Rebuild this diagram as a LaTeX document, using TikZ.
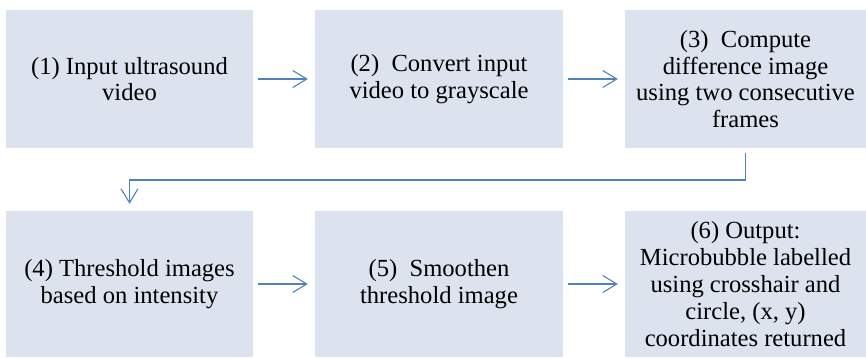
\documentclass[tikz,border=0pt]{standalone}
\usepackage{fontspec}
\setmainfont{Liberation Serif}
\usetikzlibrary{arrows.meta}
\definecolor{boxfill}{HTML}{DCE3EE}
\definecolor{flowblue}{HTML}{4F81BD}
\begin{document}
\begin{tikzpicture}[x=1pt,y=-1pt,
  stepbox/.style={fill=boxfill, draw=none, inner sep=0pt, align=center,
    font=\fontsize{24.6}{26.8}\selectfont},
  toprow/.style={minimum height=138pt},
  botrow/.style={minimum height=146pt},
  flow/.style={draw=flowblue, line width=1.1pt,
    -{Straight Barb[length=14pt,width=17pt,line width=1.1pt]},
    shorten <=5pt, shorten >=7pt}]
\useasboundingbox (0,0) rectangle (866,357);
% first row
\node[stepbox, toprow, minimum width=247pt] (s1) at (129.5,79)
  {(1) Input ultrasound\\video};
\node[stepbox, toprow, minimum width=248pt] (s2) at (439,79)
  {(2)\ \ Convert input\\video to grayscale};
\node[stepbox, toprow, minimum width=241pt] (s3) at (745.5,79)
  {(3)\ \ Compute\\difference image\\using two consecutive\\frames};
% second row
\node[stepbox, botrow, minimum width=247pt] (s4) at (129.5,284)
  {(4) Threshold images\\based on intensity};
\node[stepbox, botrow, minimum width=248pt] (s5) at (439,284)
  {(5)\ \ Smoothen\\threshold image};
\node[stepbox, botrow, minimum width=241pt] (s6) at (745.5,284)
  {(6) Output:\\Microbubble labelled\\using crosshair and\\circle, (x, y)\\coordinates returned};
% connectors
\coordinate (bend) at (0,180);
\draw[flow] (s1) -- (s2);
\draw[flow] (s2) -- (s3);
\draw[flow] (s3.south) -- (s3.south |- bend) -| (s4.north);
\draw[flow] (s4) -- (s5);
\draw[flow] (s5) -- (s6);
\end{tikzpicture}
\end{document}
